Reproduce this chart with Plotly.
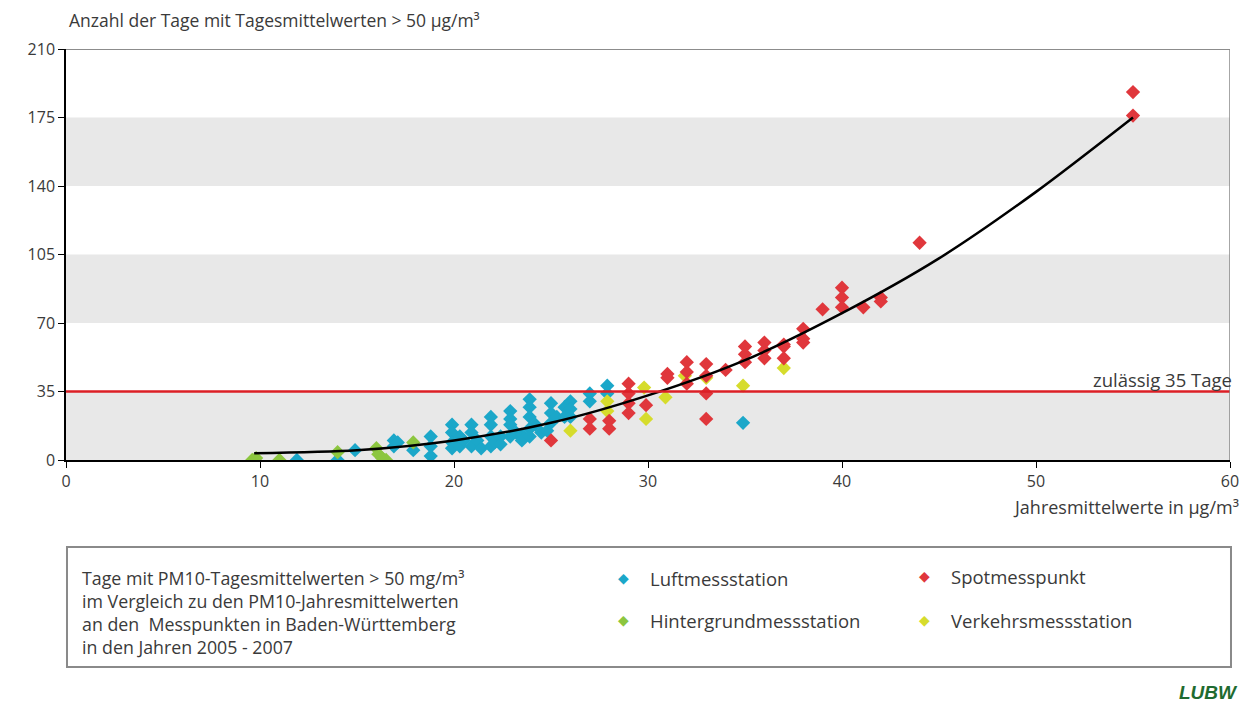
import plotly.graph_objects as go

# ---- data ----
luft_x = [11.9, 14.0, 14.9, 16.9, 16.9, 17.1, 17.9, 18.8, 18.8, 18.8, 19.9, 19.9, 19.9, 19.9, 20.3, 20.3,
          20.5, 20.9, 20.9, 20.9, 21.2, 21.4, 21.9, 21.9, 21.9, 21.9, 22.1, 22.4, 22.4, 22.9, 22.9, 22.9,
          22.9, 23.2, 23.5, 23.5, 23.9, 23.9, 23.9, 23.9, 23.9, 24.2, 24.5, 24.8, 25.0, 25.0, 25.0, 25.3,
          25.7, 25.7, 26.0, 26.0, 26.0, 27.0, 27.0, 27.9, 27.9, 34.9]
luft_y = [0, 0, 5, 10, 7, 9, 5, 12, 7, 2, 18, 14, 9, 6, 12, 7,
          10, 18, 14, 7, 10, 6, 22, 18, 12, 7, 9, 12, 8, 25, 21, 18,
          12, 14, 13, 10, 31, 27, 22, 16, 12, 18, 14, 15, 29, 24, 19, 22,
          27, 22, 30, 26, 22, 34, 30, 38, 34, 19]

hint_x = [9.6, 9.8, 11.0, 14.0, 16.0, 16.1, 16.3, 16.5, 17.9]
hint_y = [0, 1, 0, 4, 6, 3, 1, 0, 9]

verk_x = [26.0, 27.9, 27.9, 29.8, 29.9, 30.9, 31.9, 33.0, 34.9, 37.0]
verk_y = [15, 30, 25, 37, 21, 32, 43, 42, 38, 47]

spot_x = [25.0, 27.0, 27.0, 28.0, 28.0, 29.0, 29.0, 29.0, 29.0, 29.9, 31.0, 31.0, 32.0, 32.0, 32.0,
          33.0, 33.0, 33.0, 33.0, 34.0, 35.0, 35.0, 35.0, 36.0, 36.0, 36.0, 37.0, 37.0, 37.0, 38.0,
          38.0, 38.0, 39.0, 40.0, 40.0, 40.0, 41.1, 42.0, 42.0, 44.0, 55.0, 55.0]
spot_y = [10, 21, 16, 16, 20, 39, 34, 29, 24, 28, 44, 42, 50, 45, 39,
          49, 43, 34, 21, 46, 58, 54, 50, 60, 56, 52, 58, 52, 59, 67,
          62, 60, 77, 88, 83, 78, 78, 83, 81, 111, 188, 176]

trend_x = [9.7, 15, 20, 25, 30, 35, 40, 45, 50, 55]
trend_y = [3.5, 5, 10, 19, 33, 51, 75, 103, 137, 175]

y_ticks = [0, 35, 70, 105, 140, 175, 210]
x_ticks = [0, 10, 20, 30, 40, 50, 60]
bands = [(0, 35), (70, 105), (140, 175)]
limit = 35

C_BLUE = "#1ba7c9"
C_GREEN = "#8cc63f"
C_YELLOW = "#d6dc2c"
C_RED = "#e0373c"
FONT = "Open Sans"
TXT = "#3a3a3a"

W, H = 1251, 706
L, R, T, B = 66, 15, 49, 246
PW, PH = W - L - R, H - T - B


def px(x):
    return (x - L) / PW


def py(y):
    return (H - B - y) / PH


fig = go.Figure()

mk = dict(symbol="diamond", size=11, line=dict(width=0))
fig.add_trace(go.Scatter(x=luft_x, y=luft_y, mode="markers", marker=dict(color=C_BLUE, **mk), name="Luftmessstation"))
fig.add_trace(go.Scatter(x=hint_x, y=hint_y, mode="markers", marker=dict(color=C_GREEN, **mk), name="Hintergrundmessstation"))
fig.add_trace(go.Scatter(x=verk_x, y=verk_y, mode="markers", marker=dict(color=C_YELLOW, **mk), name="Verkehrsmessstation"))
fig.add_trace(go.Scatter(x=spot_x, y=spot_y, mode="markers", marker=dict(color=C_RED, **mk), name="Spotmesspunkt"))
fig.add_trace(go.Scatter(x=trend_x, y=trend_y, mode="lines", line=dict(color="black", width=2.5, shape="spline", smoothing=0.8), name="Trend"))

shapes = []
for a, b in bands:
    shapes.append(dict(type="rect", xref="x", yref="y", x0=0, x1=60, y0=a, y1=b,
                       fillcolor="#e8e8e8", line=dict(width=0), layer="below"))
shapes.append(dict(type="line", xref="x", yref="y", x0=0, x1=60, y0=limit, y1=limit,
                   line=dict(color="#dc1f26", width=2.5)))
# top and right frame
shapes.append(dict(type="line", xref="x", yref="y", x0=0, x1=60, y0=210, y1=210, line=dict(color="#666", width=1.5)))
shapes.append(dict(type="line", xref="x", yref="y", x0=60, x1=60, y0=0, y1=210, line=dict(color="#888", width=1.5)))
# legend box
shapes.append(dict(type="rect", xref="paper", yref="paper", x0=px(67), x1=px(1237), y0=py(667), y1=py(547),
                   line=dict(color="#8a8a8a", width=2), fillcolor="white"))

ann = []
ann.append(dict(text="Anzahl der Tage mit Tagesmittelwerten > 50 µg/m³", xref="paper", yref="paper",
                x=px(67), y=py(20), xanchor="left", yanchor="middle", showarrow=False,
                font=dict(family=FONT, size=17.5, color=TXT)))
ann.append(dict(text="Jahresmittelwerte in µg/m³", xref="paper", yref="paper",
                x=px(1247), y=py(507), xanchor="right", yanchor="middle", showarrow=False,
                font=dict(family=FONT, size=18, color=TXT)))
ann.append(dict(text="zulässig 35 Tage", xref="paper", yref="y",
                x=px(1240), y=limit, yshift=12, xanchor="right", yanchor="middle", showarrow=False,
                font=dict(family=FONT, size=18.5, color=TXT)))
ann.append(dict(text="Tage mit PM10-Tagesmittelwerten > 50 mg/m³<br>im Vergleich zu den PM10-Jahresmittelwerten"
                     "<br>an den  Messpunkten in Baden-Württemberg<br>in den Jahren 2005 - 2007",
                xref="paper", yref="paper", x=px(80), y=py(564), xanchor="left", yanchor="top", align="left",
                showarrow=False, font=dict(family=FONT, size=17.8, color=TXT)))

legend_items = [("Luftmessstation", C_BLUE, 626, 578), ("Hintergrundmessstation", C_GREEN, 626, 620),
                ("Spotmesspunkt", C_RED, 929, 576), ("Verkehrsmessstation", C_YELLOW, 929, 620)]
for name, col, lx, ly in legend_items:
    ann.append(dict(text="◆", xref="paper", yref="paper", x=px(lx), y=py(ly), xanchor="center", yanchor="middle",
                    showarrow=False, font=dict(family="DejaVu Sans", size=14, color=col)))
    ann.append(dict(text=name, xref="paper", yref="paper", x=px(lx + 25), y=py(ly), xanchor="left", yanchor="middle",
                    showarrow=False, font=dict(family=FONT, size=18.5, color=TXT)))
ann.append(dict(text="<b><i>LUBW</i></b>", xref="paper", yref="paper", x=px(1246), y=py(692), xanchor="right",
                yanchor="middle", showarrow=False, font=dict(family="Liberation Sans", size=19, color="#1f6b30")))

fig.update_layout(
    width=W, height=H, margin=dict(l=L, r=R, t=T, b=B, pad=0),
    paper_bgcolor="white", plot_bgcolor="white", showlegend=False,
    shapes=shapes, annotations=ann,
    font=dict(family=FONT, size=16, color=TXT),
    xaxis=dict(range=[0, 60], tickvals=x_ticks, showgrid=False, zeroline=False, showline=True,
               linecolor="black", linewidth=1.5, ticks="outside", ticklen=6, tickcolor="black",
               tickfont=dict(family=FONT, size=16, color=TXT)),
    yaxis=dict(range=[0, 210], tickvals=y_ticks, showgrid=False, zeroline=False, showline=True,
               linecolor="black", linewidth=1.5, ticks="outside", ticklen=6, tickcolor="black",
               tickfont=dict(family=FONT, size=16, color=TXT)),
)

fig.write_html("out.html", config={"displayModeBar": False},
               post_script="document.body.style.margin='0';document.body.style.overflow='hidden';")
